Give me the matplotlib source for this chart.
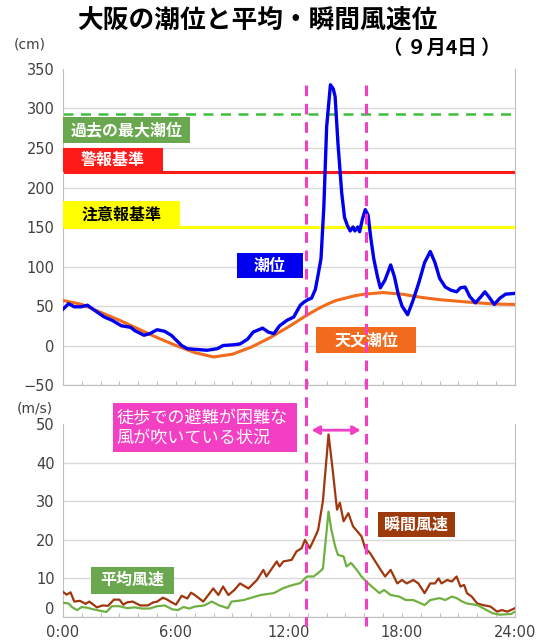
import matplotlib
matplotlib.use('Agg')
import matplotlib.pyplot as plt
import matplotlib.transforms as mtransforms
from matplotlib.patches import Rectangle
from matplotlib.lines import Line2D

# Fonts: DejaVu for digits, Noto CJK for Japanese text
JP = ['Noto Sans CJK JP', 'DejaVu Sans']
plt.rcParams['font.family'] = ['DejaVu Sans', 'Noto Sans CJK JP']

# Observed tide level (cm) at Osaka
tide_hours = [0.0, 0.3, 0.6, 0.95, 1.3, 1.65, 2.2, 2.6, 3.1, 3.6, 3.8, 4.3, 4.6, 5.0, 5.4, 5.75,
              6.3, 6.6, 7.1, 7.65, 8.2, 8.5, 9.1, 9.4, 9.8, 10.1, 10.6, 10.9, 11.2, 11.5, 11.9,
              12.25, 12.6, 12.8, 13.0, 13.2, 13.4, 13.55, 13.7, 13.85, 14.0, 14.2, 14.35, 14.45,
              14.6, 14.8, 14.95, 15.1, 15.25, 15.4, 15.5, 15.65, 15.75, 15.9, 16.05, 16.2, 16.35,
              16.5, 16.7, 16.85, 17.1, 17.4, 17.6, 17.8, 18.0, 18.3, 18.6, 18.9, 19.2, 19.5, 19.75,
              20.0, 20.3, 20.6, 20.9, 21.1, 21.35, 21.6, 21.9, 22.2, 22.4, 22.6, 22.9, 23.2, 23.5, 24.0]
tide_obs = [46, 53, 49, 49, 51, 45, 36, 32, 25, 23, 19, 13, 15, 20, 18, 13,
            0, -4, -5, -6, -4, 0, 1, 2, 8, 17, 22, 17, 15, 25, 32,
            36, 51, 55, 58, 60, 71, 90, 110, 175, 277, 330, 325, 315,
            256, 193, 162, 152, 145, 150, 145, 150, 144, 160, 172, 165, 135,
            110, 87, 73, 83, 102, 87, 65, 50, 39, 58, 80, 105, 119, 105,
            85, 74, 70, 68, 73, 74, 62, 54, 62, 68, 62, 52, 60, 65, 66]

# Astronomical tide (cm)
astro_hours = [0, 1, 2, 3, 4, 5, 6, 7, 8, 9, 10, 11, 12, 12.85, 13.5, 14, 14.5, 15, 15.5, 16,
               17, 18, 19, 20, 21, 22, 23, 24]
astro_tide = [57, 52, 42, 32, 21, 10, 0, -9, -14.5, -11, -2, 10, 24, 37, 46, 52, 57, 60, 63, 65,
              67, 65, 61, 58, 56, 54, 52.5, 52]

# Reference levels (cm)
max_tide = 293
warning_level = 220
advisory_level = 150

# Maximum gust (m/s)
gust_hours = [0.0, 0.2, 0.4, 0.6, 0.9, 1.2, 1.4, 1.8, 2.1, 2.4, 2.7, 3.0, 3.2, 3.4, 3.7, 4.1, 4.5,
              4.8, 5.0, 5.3, 5.5, 5.7, 6.0, 6.3, 6.6, 6.8, 7.0, 7.45, 7.98, 8.25, 8.5, 8.78, 9.1,
              9.4, 9.85, 10.3, 10.64, 10.8, 11.35, 11.5, 11.7, 12.14, 12.4, 12.67, 12.85, 13.1,
              13.4, 13.55, 13.8, 14.1, 14.3, 14.55, 14.7, 14.9, 15.15, 15.4, 15.85, 16.05, 16.3,
              16.75, 17.1, 17.4, 17.75, 18.0, 18.25, 18.6, 18.87, 19.2, 19.5, 19.75, 19.94, 20.1,
              20.4, 20.65, 20.9, 21.1, 21.3, 21.45, 21.7, 22.0, 22.3, 22.7, 23.05, 23.3, 23.6, 24.0]
gust = [6.5, 5.8, 6.4, 4.0, 4.2, 3.4, 4.0, 2.5, 3.0, 2.9, 4.5, 4.5, 3.2, 3.8, 4.0, 3.0, 3.0,
        3.8, 4.0, 5.0, 4.6, 4.0, 3.2, 5.5, 4.8, 6.3, 5.7, 4.0, 7.4, 5.7, 7.9, 5.7, 7.0,
        8.7, 7.4, 9.6, 12.2, 10.5, 14.4, 13.1, 14.4, 14.8, 17.0, 17.8, 20.0, 17.8,
        20.9, 22.6, 30.0, 47.3, 39.0, 27.8, 29.6, 24.8, 26.9, 23.5, 20.9, 17.8, 16.6,
        13.1, 10.5, 12.2, 8.7, 9.6, 8.7, 9.6, 8.7, 6.2, 8.7, 8.7, 10.0, 8.7,
        9.6, 9.2, 10.5, 7.9, 8.3, 6.2, 5.3, 3.5, 3.1, 2.7, 1.4, 1.8, 1.4, 2.3]

# Mean wind speed (m/s)
mean_hours = [0.0, 0.3, 0.5, 0.75, 1.0, 1.3, 1.6, 2.0, 2.3, 2.6, 3.0, 3.4, 3.8, 4.2, 4.6, 5.0,
              5.4, 5.8, 6.1, 6.4, 6.7, 7.0, 7.5, 7.9, 8.3, 8.75, 8.95, 9.3, 9.6, 10.0, 10.5, 11.2,
              11.7, 12.2, 12.6, 12.95, 13.3, 13.55, 13.8, 14.1, 14.25, 14.45, 14.6, 14.9, 15.05,
              15.3, 15.6, 15.85, 16.1, 16.4, 16.8, 17.05, 17.4, 17.85, 18.2, 18.6, 19.2, 19.5,
              20.0, 20.3, 20.65, 20.9, 21.2, 21.45, 22.0, 22.3, 22.8, 23.2, 23.8, 24.0]
mean_wind = [3.7, 3.5, 2.5, 1.8, 2.6, 2.4, 2.0, 1.6, 1.3, 2.8, 2.8, 2.3, 2.5, 2.2, 2.2, 2.8,
             3.0, 2.0, 1.8, 2.6, 2.2, 2.7, 3.0, 4.0, 3.0, 2.3, 4.0, 4.2, 4.4, 5.0, 5.7, 6.2,
             7.5, 8.3, 8.8, 10.5, 10.5, 11.4, 12.5, 27.3, 22.6, 18.3, 16.1, 15.7, 13.1,
             14.0, 12.2, 10.5, 9.2, 7.9, 6.2, 7.0, 5.7, 5.3, 4.4, 4.4, 3.1, 4.4,
             4.9, 4.4, 5.3, 4.9, 4.0, 3.5, 3.1, 2.3, 1.0, 0.6, 0.8, 1.4]

# Period when walking evacuation is difficult (hours)
storm_start = 12.9
storm_end = 16.1

x_ticks = list(range(0, 25))
x_labels = ['%d:00' % h if h % 6 == 0 else '' for h in x_ticks]

GRID = '#d9d9d9'
TEXT = '#404040'
MAGENTA = '#f23fc4'

fig = plt.figure(figsize=(5.36, 6.4), dpi=100)
ax1 = fig.add_axes([0.1175, 0.3984, 0.8433, 0.4938])
ax2 = fig.add_axes([0.1175, 0.0359, 0.8433, 0.3016])


def style_axis(ax, ylim, yticks, show_labels):
    ax.set_xlim(0, 24)
    ax.set_ylim(*ylim)
    ax.set_yticks(yticks)
    ax.set_xticks(x_ticks)
    ax.set_xticklabels(x_labels if show_labels else [''] * len(x_ticks))
    ax.grid(True, axis='y', color=GRID, lw=1)
    ax.set_axisbelow(True)
    ax.tick_params(axis='y', length=0, labelsize=10.5, labelcolor=TEXT, pad=6)
    ax.tick_params(axis='x', direction='in', length=3, color='#bfbfbf', labelsize=10.5,
                   labelcolor=TEXT, pad=6)
    ax.spines['top'].set_visible(False)
    for s in ['left', 'right', 'bottom']:
        ax.spines[s].set_color('#bfbfbf')
    ax.get_ygridlines()[-1].set_visible(False)


def tag(ax, x0, x1, y0, y1, text, fc, tc='white'):
    ax.add_patch(Rectangle((x0, y0), x1 - x0, y1 - y0, facecolor=fc, edgecolor='none',
                           zorder=5, clip_on=False))
    ax.text((x0 + x1) / 2, (y0 + y1) / 2, text, color=tc, fontsize=11.5, fontweight='bold',
            ha='center', va='center', family=JP, zorder=6)


# Top panel: tide levels
style_axis(ax1, (-50, 350), range(-50, 351, 50), False)
ax1.axhline(max_tide, color='#3cbf3c', lw=1.8, ls=(0, (4, 3)), zorder=2)
ax1.axhline(warning_level, color='#ff1a1a', lw=2.2, zorder=2)
ax1.axhline(advisory_level, color='#ffff00', lw=2.2, zorder=2)
ax1.plot(astro_hours, astro_tide, color='#f26a1b', lw=2.2, zorder=3)
ax1.plot(tide_hours, tide_obs, color='#0000ee', lw=2.4, zorder=4)

tag(ax1, 0, 6.75, 256, 289, '過去の最大潮位', '#6aa84f')
tag(ax1, 0, 5.3, 219, 250, '警報基準', '#ff1a1a')
tag(ax1, 0, 6.2, 149, 183, '注意報基準', '#ffff00', tc='black')
tag(ax1, 9.25, 12.75, 85, 117, '潮位', '#0000ee')
tag(ax1, 13.45, 18.75, -10, 23, '天文潮位', '#f26a1b')

# Bottom panel: wind speeds
style_axis(ax2, (0, 50), range(0, 51, 10), True)
ax2.get_yticklabels()[0].set_va('bottom')  # raise the "0" label like the original
ax2.plot(gust_hours, gust, color='#a0360e', lw=1.6, zorder=3)
ax2.plot(mean_hours, mean_wind, color='#6fb041', lw=1.6, zorder=3)

tag(ax2, 1.5, 5.9, 6, 13, '平均風速', '#6aa84f')
tag(ax2, 16.7, 20.8, 20.7, 27.2, '瞬間風速', '#9c3a0c')

ax2.add_patch(Rectangle((2.65, 42.7), 12.43 - 2.65, 55.4 - 42.7, facecolor=MAGENTA,
                        edgecolor='none', zorder=5, clip_on=False))
ax2.text(2.85, 49.0, '徒歩での避難が困難な\n風が吹いている状況', color='white', fontsize=12.3,
         ha='left', va='center', family=JP, linespacing=1.15, zorder=6)
ax2.annotate('', xy=(storm_end - 0.15, 48.4), xytext=(storm_start + 0.15, 48.4),
             arrowprops=dict(arrowstyle='<|-|>,head_length=0.45,head_width=0.25',
                             color=MAGENTA, lw=2), annotation_clip=False)

# Dashed markers across both panels
trans = mtransforms.blended_transform_factory(ax1.transData, fig.transFigure)
for h in [storm_start, storm_end]:
    fig.add_artist(Line2D([h, h], [1 - 85 / 640, 1 - 626 / 640], transform=trans,
                          color=MAGENTA, lw=2.2, ls=(0, (3.5, 2.5)), zorder=10))

# Titles and units
fig.text(0.48, 0.969, '大阪の潮位と平均・瞬間風速位', fontsize=18.5, fontweight='bold',
         ha='center', va='center', family=JP)
fig.text(0.825, 0.924, '（ ９月4日 ）', fontsize=14, fontweight='bold', ha='center',
         va='center', family=JP)
fig.text(0.056, 0.93, '(cm)', fontsize=10, color=TEXT, ha='center', va='center')
fig.text(0.065, 0.3625, '(m/s)', fontsize=10, color=TEXT, ha='center', va='center')

plt.savefig('out.png', dpi=100)
